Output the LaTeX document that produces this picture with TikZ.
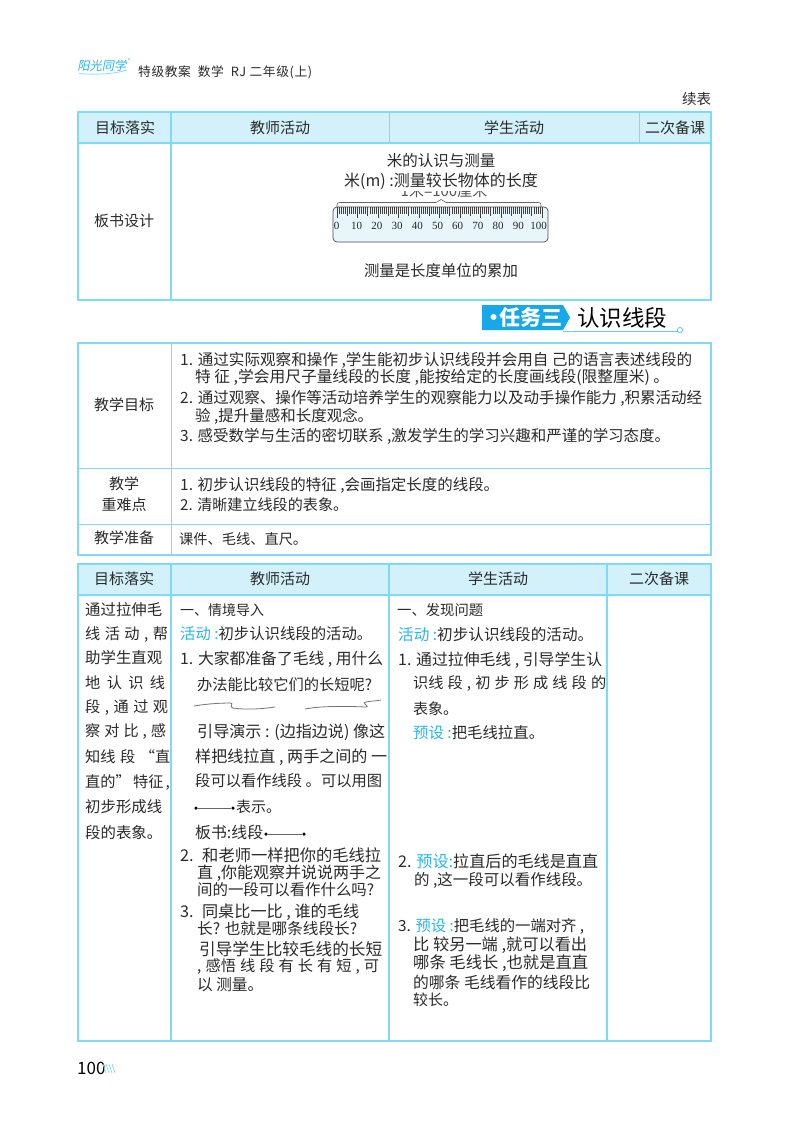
\documentclass[tikz,border=0pt]{standalone}
\usepackage{fontspec}
\usepackage{graphicx}
\setmainfont{Noto Sans CJK SC}
\newfontfamily\serf{Liberation Serif}
\definecolor{bord}{HTML}{7EDAF5}
\definecolor{headf}{HTML}{D3F1FB}
\definecolor{cyantxt}{HTML}{2BB5EC}
\definecolor{bluefill}{HTML}{16A8E8}
\definecolor{txt}{HTML}{2A2A2A}
\definecolor{rulerf}{HTML}{E8F5FB}
\newcounter{tn}
\tikzset{
 x=1pt,y=-1pt,
 body/.style={inner sep=0pt,text=txt,font=\fontsize{15.2}{16}\selectfont,anchor=west},
 ctext/.style={inner sep=0pt,text=txt,font=\fontsize{15}{16}\selectfont,anchor=center},
 line/.style={draw=bord,line width=1.5pt},
 thinline/.style={draw=bord,line width=1pt},
 dotseg/.style={draw=black!60,line width=0.7pt},
 dotend/.style={circle,fill=black,inner sep=0pt,minimum size=3.5pt},
 thread/.style={draw=black!55,line width=0.8pt},
 tick/.style={draw=black!75,line width=0.6pt}
}
% W: line scaled to a measured width; J: line whose spaces stretch to a measured width
\newcommand\W[4]{\stepcounter{tn}\node[body] (t\thetn) at (#1,#2) {\resizebox{#3pt}{!}{#4}};}
\newcommand\J[4]{\stepcounter{tn}\node[body] (t\thetn) at (#1,#2) {\makebox[#3pt][s]{#4}};}
\newcommand\TC[4][15]{\stepcounter{tn}\node[ctext,font=\fontsize{#1}{16}\selectfont] (t\thetn) at (#2,#3) {#4};}
\newcommand\HL[1]{\textcolor{cyantxt}{#1}}
\begin{document}
\begin{tikzpicture}
\useasboundingbox (0,0) rectangle (800,1123);
\fill[white] (0,0) rectangle (800,1123);
% header logo
\node[inner sep=0pt,anchor=west,text=cyantxt,xslant=0.2] (logo) at (78,66) {\resizebox{49pt}{!}{阳光同学}};
\draw[cyantxt!50,line width=0.8pt] (79,73.5) .. controls (95,75) and (115,74) .. (127,70);
\node[inner sep=0pt,text=cyantxt,font=\fontsize{5}{5}\selectfont] (reg) at (129,61) {®};
\node[inner sep=0pt,anchor=west,text=txt] (runhead) at (138,72) {\resizebox{174pt}{!}{\fontsize{12}{13}\selectfont\addfontfeature{LetterSpace=5}特级教案\ \ 数学\ \ RJ 二年级(上)}};
\W{682}{99}{29}{续表}
% table 1
\fill[headf] (78,112) rectangle (711,143);
\draw[line] (78,112) rectangle (711,300);
\draw[line] (78,143) -- (711,143) (171,112) -- (171,300);
\draw[thinline] (389,112) -- (389,143) (639,112) -- (639,143);
\TC{125}{128}{目标落实}\TC{280}{128}{教师活动}\TC{514}{128}{学生活动}\TC{675}{128}{二次备课}
\TC{124}{221}{板书设计}
% partly hidden caption of ruler
\node[inner sep=0pt,text=txt!80,font=\fontsize{15}{16}\selectfont] (cap) at (444,191) {1米=100厘米};
\fill[white] (330,172) rectangle (552,191);
\TC[15.5]{441}{161}{米的认识与测量}
\TC[16]{441}{181}{米(m) :测量较长物体的长度}
\TC[15.4]{441}{271}{测量是长度单位的累加}
% ruler
\draw[black!60,line width=0.6pt] (337,207) -- (337,205) .. controls (337,203) and (338,202.5) .. (340,202.5) -- (436,202.5) -- (441,199.5) -- (446,202.5) -- (538,202.5) .. controls (540,202.5) and (541,203) .. (541,205) -- (541,207);
\draw[black!70,fill=rulerf,line width=0.7pt,rounded corners=4pt] (333,207) rectangle (548,242);
\foreach \i in {0,...,100}{
  \pgfmathsetmacro\xx{337+2.05*\i}
  \pgfmathsetmacro\tl{ifthenelse(mod(\i,10)==0,11,ifthenelse(mod(\i,5)==0,9,7))}
  \draw[tick] (\xx,207) -- (\xx,207+\tl);
}
\foreach \i in {0,10,...,100}{
  \pgfmathsetmacro\xx{336.5+2.02*\i}
  \node[inner sep=0pt,text=black!85,font=\serf\fontsize{11}{12}\selectfont] (r\i) at (\xx,226) {\i};
}
% section title
\fill[bluefill] (482,305) -- (563,305) -- (570,317.5) -- (563,330) -- (482,330) -- cycle;
\node[inner sep=0pt,anchor=west,text=white,font=\bfseries] (sec) at (483,317.5) {\resizebox{79pt}{!}{·\kern-2.5pt 任务三}};
\node[inner sep=0pt,anchor=west,text=black] (secb) at (577,318) {\resizebox{90pt}{!}{认识线段}};
\draw[cyantxt!70,line width=0.7pt] (563,331) -- (677.5,331);
\draw[cyantxt!80,fill=white,line width=0.7pt] (680,330) circle (2.6);
% table 2
\draw[line] (78,343) rectangle (711,555);
\draw[thinline] (78,468) -- (711,468) (78,524) -- (711,524) (171,343) -- (171,555);
\TC{124}{405}{教学目标}\TC{124}{484}{教学}\TC{124}{505}{重难点}\TC{124}{538}{教学准备}
\W{180}{360}{512}{1. 通过实际观察和操作 ,学生能初步认识线段并会用自 己的语言表述线段的}
\W{195}{377}{474}{特 征 ,学会用尺子量线段的长度 ,能按给定的长度画线段(限整厘米) 。}
\W{180}{398}{522}{2. 通过观察、操作等活动培养学生的观察能力以及动手操作能力 ,积累活动经}
\W{195}{416}{178}{验 ,提升量感和长度观念。}
\W{180}{436}{490}{3. 感受数学与生活的密切联系 ,激发学生的学习兴趣和严谨的学习态度。}
\W{180}{485}{319}{1. 初步认识线段的特征 ,会画指定长度的线段。}
\W{180}{505}{168}{2. 清晰建立线段的表象。}
\W{179}{539}{128}{课件、毛线、直尺。}
% table 3
\fill[headf] (78,564) rectangle (711,595);
\draw[line] (78,564) rectangle (711,1041);
\draw[line] (78,595) -- (711,595) (171,564) -- (171,1041) (389,564) -- (389,1041) (607,564) -- (607,1041);
\TC{124}{579}{目标落实}\TC{280}{579}{教师活动}\TC{498}{579}{学生活动}\TC{659}{579}{二次备课}
% col 1
\W{85}{610}{77}{通过拉伸毛}
\J{85}{635}{83}{线 活 动 , 帮}
\W{85}{658}{77}{助学生直观}
\J{85}{683}{80}{地 认 识 线}
\J{85}{708}{83}{段 , 通 过 观}
\J{85}{732}{81}{察 对 比 , 感}
\J{85}{757}{85}{知线 段 “直}
\J{85}{783}{82}{直的” 特征 ,}
\W{85}{807}{77}{初步形成线}
\W{85}{833}{77}{段的表象。}
% col 2
\W{180}{610}{84}{一、情境导入}
\W{180}{634}{192}{\HL{活动 :}初步认识线段的活动。}
\W{180}{659}{203}{1. 大家都准备了毛线 , 用什么}
\W{197}{685}{175}{办法能比较它们的长短呢?}
\W{197}{732}{188}{引导演示 : (边指边说) 像这}
\W{195}{757}{192}{样把线拉直 , 两手之间的 一}
\W{195}{781}{187}{段可以看作线段 。可以用图}
\W{236}{807}{45}{表示。}
\W{195}{832}{68}{板书:线段}
\draw[thread] (194,706) .. controls (205,704) and (220,703) .. (230,703) .. controls (235,703) and (228,707) .. (233,708) .. controls (245,710) and (262,709) .. (275,707);
\draw[thread] (305,709) .. controls (320,706) and (345,706) .. (365,707) .. controls (372,707) and (360,703) .. (366,702) .. controls (371,701) and (376,701) .. (381,700);
\node[dotend] (sa) at (196,808) {}; \node[dotend] (sb) at (233,808) {};
\node[dotend] (sc) at (266,834) {}; \node[dotend] (sd) at (304,834) {};
\draw[dotseg] (sa) -- (sb);
\draw[dotseg] (sc) -- (sd);
\W{180}{855}{201}{2. \ 和老师一样把你的毛线拉}
\W{197}{873}{184}{直 ,你能观察并说说两手之}
\W{197}{890}{177}{间的一段可以看作什么吗?}
\W{180}{912}{179}{3. \ 同桌比一比 , 谁的毛线}
\W{197}{929}{160}{长? 也就是哪条线段长?}
\W{199}{949}{183}{引导学生比较毛线的长短}
\J{197}{967}{182}{, 感悟 线 段 有 长 有 短 , 可}
\W{197}{985}{66}{以 测量。}
% col 3
\W{397}{610}{86}{一、发现问题}
\W{398}{635}{195}{\HL{活动 :}初步认识线段的活动。}
\W{398}{660}{204}{1. 通过拉伸毛线 , 引导学生认}
\J{413}{684}{193}{识线 段 , 初 步 形 成 线 段 的}
\W{413}{709}{45}{表象。}
\W{413}{733}{131}{\HL{预设 :}把毛线拉直。}
\W{398}{861}{200}{2. \HL{预设:}拉直后的毛线是直直}
\W{414}{880}{178}{的 ,这一段可以看作线段。}
\W{398}{926}{186}{3. \HL{预设 :}把毛线的一端对齐 ,}
\W{413}{945}{174}{比 较另一端 ,就可以看出}
\W{413}{963}{175}{哪条 毛线长 ,也就是直直}
\W{413}{982}{177}{的哪条 毛线看作的线段比}
\W{413}{1000}{45}{较长。}
% page number
\node[inner sep=0pt,anchor=west,text=black,font=\fontsize{17}{18}\selectfont] (pg) at (77,1068) {100};
\foreach \i in {0,1,2,3}{ \draw[bord,line width=0.7pt] (103+3*\i,1064) -- (106+3*\i,1073); }
\end{tikzpicture}
\end{document}
